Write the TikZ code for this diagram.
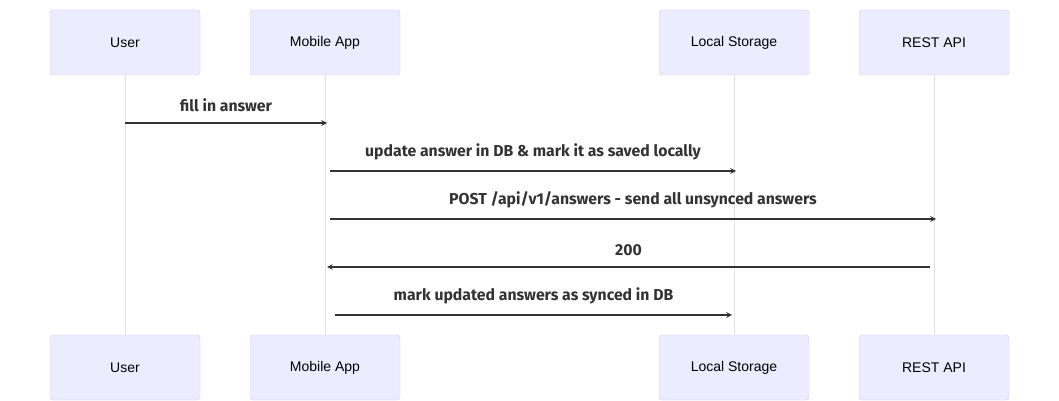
\documentclass[tikz,border=0pt]{standalone}
\usepackage{fontspec}
\setmainfont{Liberation Sans}
\newfontfamily\msgfont{Fira Sans}
\usetikzlibrary{positioning}
\definecolor{actfill}{HTML}{ECECFF}
\definecolor{actline}{HTML}{D4CCF4}
\definecolor{lifeline}{HTML}{E0E0E0}
\definecolor{msgcol}{HTML}{333333}
\tikzset{
  actor/.style={draw=actline, fill=actfill, rounded corners=3pt, minimum width=150pt, minimum height=65pt, inner sep=0pt, font=\fontsize{14}{16}\selectfont, text=black},
  life/.style={draw=lifeline, line width=1pt},
  msg/.style={draw=msgcol, line width=1.5pt, ->},
  msgtxt/.style={font=\msgfont\fontsize{15.8}{18}\selectfont\bfseries, text=msgcol, inner sep=0pt}
}

\begin{document}
\begin{tikzpicture}[>=stealth, x=1pt, y=-1pt]
      \useasboundingbox (0,0) rectangle (1059,401);
      % actors, top and bottom
      \node[actor] (uTop) at (125,42.5)  {User};
      \node[actor] (aTop) at (325,42.5)  {Mobile App};
      \node[actor] (sTop) at (734,42.5)  {Local Storage};
      \node[actor] (rTop) at (934,42.5)  {REST API};
      \node[actor] (uBot) at (125,367.5) {User};
      \node[actor] (aBot) at (325,367.5) {Mobile App};
      \node[actor] (sBot) at (734,367.5) {Local Storage};
      \node[actor] (rBot) at (934,367.5) {REST API};
      \draw[life] (uTop) -- (uBot);
      \draw[life] (aTop) -- (aBot);
      \draw[life] (sTop) -- (sBot);
      \draw[life] (rTop) -- (rBot);
      % message ends
      \coordinate (u1) at (125,123);
      \coordinate (a1) at (327,123);
      \coordinate (a2) at (330,171);
      \coordinate (s2) at (736,171);
      \coordinate (a3) at (330,219);
      \coordinate (r3) at (936,219);
      \coordinate (r4) at (930,267);
      \coordinate (a4) at (327,267);
      \coordinate (a5) at (335,315);
      \coordinate (s5) at (732,315);
      \draw[msg] (u1) -- node[msgtxt, above=10pt] {fill in answer} (a1);
      \draw[msg] (a2) -- node[msgtxt, above=10pt] {update answer in DB \& mark it as saved locally} (s2);
      \draw[msg] (a3) -- node[msgtxt, above=10pt] {POST /api/v1/answers - send all unsynced answers} (r3);
      \draw[msg] (r4) -- node[msgtxt, above=10pt] {200} (a4);
      \draw[msg] (a5) -- node[msgtxt, above=10pt] {mark updated answers as synced in DB} (s5);
    \end{tikzpicture}
\end{document}
